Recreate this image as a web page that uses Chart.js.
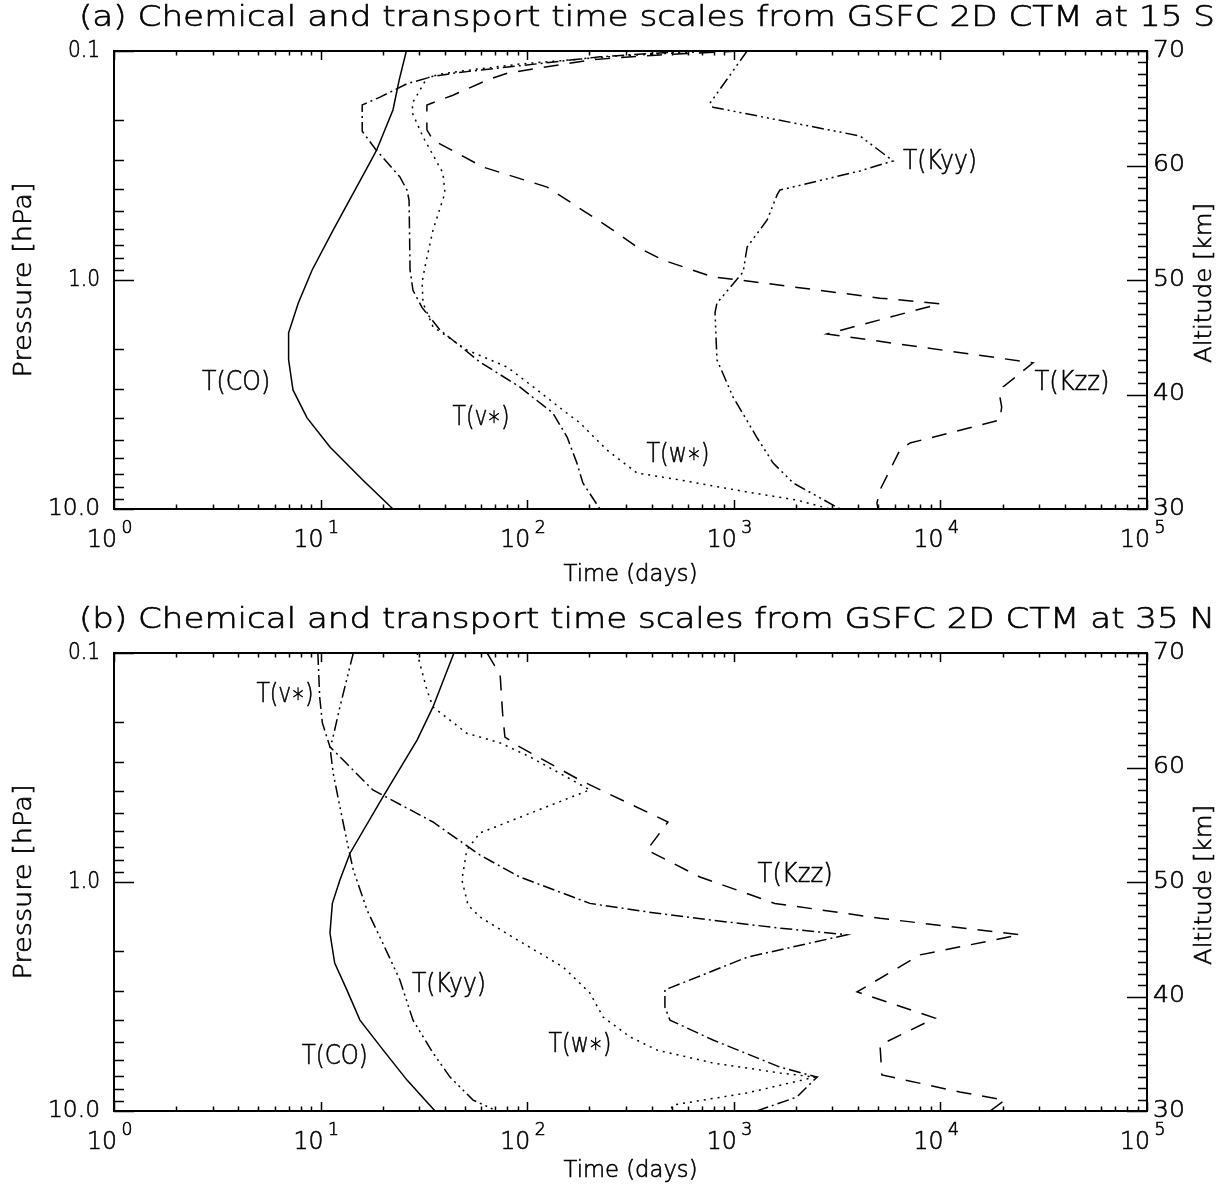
<!DOCTYPE html>
<html>
<head>
<meta charset="utf-8">
<script src="https://cdn.jsdelivr.net/npm/chart.js@4.4.0/dist/chart.umd.min.js"></script>
<style>
  html, body { margin: 0; padding: 0; background: #fff; }
  #wrap { position: relative; width: 1229px; height: 1186px; }
  canvas { position: absolute; left: 0; }
</style>
</head>
<body>
<div id="wrap">
  <canvas id="chartA" width="1229" height="602" style="top:0"></canvas>
  <canvas id="chartB" width="1229" height="584" style="top:602px"></canvas>
</div>
<script>
// axis ticks
const timeDecades = [1, 10, 100, 1000, 10000, 100000];
const timeExponents = ['0', '1', '2', '3', '4', '5'];
const pressureTicks = [0.1, 1, 10];
const pressureLabels = ['0.1', '1.0', '10.0'];
const altitudeTicks = [30, 40, 50, 60, 70];

// panel (a), 15 S -- pressure (hPa) and time scale (days) along each curve
const coA_p = [0.1, 0.134, 0.181, 0.27, 0.308, 0.605, 0.904, 1.26, 1.7, 2.23, 3.02, 4.0, 5.36, 7.47, 10];
const coA_t = [26, 24, 22.4, 18.7, 17.3, 11.5, 9.1, 7.8, 7.0, 7.0, 7.35, 8.6, 11.1, 16, 22.4];

const vA_p = [0.1, 0.106, 0.116, 0.124, 0.129, 0.139, 0.159, 0.172, 0.224, 0.266, 0.355, 0.405, 0.448, 0.904, 1.11, 1.32, 1.65, 2.28, 2.93, 3.81, 4.85, 6.3, 7.7, 10];
const vA_t = [614, 225, 92, 47, 35, 26.2, 19.4, 15.9, 15.9, 18.3, 24.2, 26.2, 26.8, 27.1, 28, 31, 37.8, 59, 92, 133, 156, 174, 186, 225];

const wA_p = [0.1, 0.105, 0.114, 0.121, 0.126, 0.131, 0.156, 0.167, 0.185, 0.237, 0.341, 0.417, 0.605, 0.877, 1.02, 1.26, 1.6, 2.02, 2.4, 2.93, 3.7, 4.21, 5.52, 6.96, 7.47, 8.43, 9.14, 10];
const wA_t = [811, 281, 92, 53, 38, 32.7, 29.3, 28, 27.7, 31.3, 39.1, 40, 35, 32, 31, 31.3, 35, 51, 80, 107, 149, 180, 243, 340, 549, 1160, 2020, 2920];

const kzzA_p = [0.1, 0.104, 0.109, 0.119, 0.125, 0.134, 0.156, 0.172, 0.221, 0.245, 0.321, 0.393, 0.605, 0.718, 0.818, 0.97, 1.0, 1.2, 1.27, 1.72, 2.3, 2.93, 3.24, 3.59, 4.09, 5.15, 5.52, 8.26, 9.42, 10];
const kzzA_t = [1070, 439, 208, 112, 80, 64, 43.7, 32.7, 32.7, 35, 61, 125, 260, 340, 454, 793, 1070, 5100, 9950, 2830, 28100, 20100, 19400, 19800, 19400, 7130, 6370, 5100, 4930, 4990];

const kyyA_p = [0.1, 0.169, 0.176, 0.235, 0.302, 0.334, 0.405, 0.425, 0.547, 0.718, 0.923, 1.26, 1.39, 2.23, 3.24, 4.85, 6.3, 7.7, 10];
const kyyA_t = [1160, 767, 793, 4080, 5900, 4080, 1670, 1620, 1450, 1160, 1110, 829, 811, 829, 991, 1290, 1550, 1940, 3270];

// panel (b), 35 N
const coB_p = [0.1, 0.172, 0.24, 0.426, 0.747, 0.98, 1.24, 1.67, 2.26, 2.96, 4.01, 5.42, 7.33, 10];
const coB_t = [44.2, 35, 29.3, 20, 13.9, 12.4, 11.4, 11.1, 11.7, 13.4, 15.5, 20.1, 26.2, 35.8];

const vB_p = [0.1, 0.156, 0.202, 0.257, 0.396, 0.547, 0.762, 0.951, 1.24, 1.35, 1.47, 1.59, 1.70, 2.13, 2.9, 2.96, 3.52, 4.01, 4.9, 6.43, 7.11, 8.69, 10];
const vB_t = [9.7, 9.9, 10.2, 11.1, 17.9, 35, 59, 92, 201, 380, 793, 1670, 3530, 1160, 491, 464, 464, 491, 793, 1670, 2530, 2020, 1290];

const wB_p = [0.1, 0.145, 0.172, 0.224, 0.247, 0.284, 0.396, 0.611, 0.725, 0.98, 1.26, 1.42, 1.74, 2.35, 3.05, 3.89, 4.75, 5.42, 6.17, 6.82, 7.11, 8.34, 9.41, 10];
const wB_t = [29.3, 32.7, 35, 51, 74, 103, 201, 59, 51, 48.3, 51.7, 59, 85, 149, 201, 233, 315, 425, 793, 1670, 2470, 1160, 508, 491];

const kzzB_p = [0.1, 0.125, 0.183, 0.233, 0.257, 0.359, 0.547, 0.725, 0.951, 1.24, 1.44, 1.70, 2.08, 3.02, 3.93, 5.15, 6.96, 8.26, 8.96, 10];
const kzzB_t = [64, 74, 76, 78, 92, 180, 480, 380, 686, 1580, 5100, 24300, 7970, 3950, 9420, 5100, 5210, 12400, 20500, 17400];

const kyyB_p = [0.1, 0.172, 0.24, 0.257, 0.334, 0.47, 0.703, 0.887, 1.33, 1.85, 2.68, 4.01, 5.58, 7.11, 8.96, 10];
const kyyB_t = [14.4, 12.4, 11.4, 11.1, 11.5, 12.4, 13.6, 14.4, 16.8, 20, 24.2, 28, 35, 42.3, 54.7, 71.4];

// curve labels (time, pressure)
const labelsA = [
  { text: 'T(CO)', t: 3.9, p: 2.82, w: 68 },
  { text: 'T(v\u2217)', t: 59.8, p: 4.01, w: 57 },
  { text: 'T(w\u2217)', t: 537, p: 5.81, w: 63 },
  { text: 'T(Kyy)', t: 9950, p: 0.305, w: 74 },
  { text: 'T(Kzz)', t: 43300, p: 2.82, w: 75 }
];
const labelsB = [
  { text: 'T(v\u2217)', t: 6.72, p: 0.153, w: 57 },
  { text: 'T(Kyy)', t: 41.8, p: 2.82, w: 74 },
  { text: 'T(CO)', t: 11.7, p: 5.81, w: 66 },
  { text: 'T(w\u2217)', t: 180, p: 5.15, w: 63 },
  { text: 'T(Kzz)', t: 1980, p: 0.931, w: 75 }
];

const DOTTED = [2, 5];
const DASHED = [15, 11];
const DASHDOT = [12, 4, 2, 4];
const DASH3DOT = [12, 4, 2, 4, 2, 4, 2, 4];

const FONT = '200 SIZEpx "DejaVu Sans"';

// thin font stretched to the wide plotter lettering, with a light outline to thicken it
function fitText(ctx, str, x, y, size, width, align) {
  ctx.font = FONT.replace('SIZE', size);
  const w0 = ctx.measureText(str).width;
  ctx.save();
  ctx.translate(x, y);
  ctx.scale(width / w0, 1);
  ctx.textAlign = align || 'center';
  ctx.textBaseline = 'middle';
  ctx.fillStyle = '#000';
  ctx.strokeStyle = '#000';
  ctx.lineWidth = 0.6;
  ctx.fillText(str, 0, 0);
  ctx.strokeText(str, 0, 0);
  ctx.restore();
}

function series(t, p, dash) {
  return {
    data: t.map((v, i) => ({ x: v, y: p[i] })),
    showLine: true,
    borderColor: '#000',
    borderWidth: 1.5,
    borderDash: dash,
    pointRadius: 0,
    tension: 0,
    fill: false
  };
}

const framePlugin = {
  id: 'frame',
  afterDraw(chart) {
    const ctx = chart.ctx;
    const { left, right, top, bottom } = chart.chartArea;
    const xs = chart.scales.x, ys = chart.scales.y, as = chart.scales.alt;
    const cfg = chart.options.plugins.frame;
    ctx.save();
    ctx.strokeStyle = '#000';
    ctx.lineWidth = 1.5;
    ctx.beginPath();
    // time ticks, bottom and top
    for (let d = 1; d <= 1e5; d *= 10) {
      for (let m = 1; m <= 9; m++) {
        const v = d * m;
        if (v > 1e5) break;
        const px = Math.round(xs.getPixelForValue(v)) + 0.5;
        const len = m === 1 ? 9 : 4.5;
        ctx.moveTo(px, bottom); ctx.lineTo(px, bottom - len);
        ctx.moveTo(px, top); ctx.lineTo(px, top + len);
      }
    }
    // pressure ticks, left
    for (let d = 0.1; d <= 10; d *= 10) {
      for (let m = 1; m <= 9; m++) {
        const v = d * m;
        if (v > 10.001) break;
        const py = Math.round(ys.getPixelForValue(v)) + 0.5;
        const len = m === 1 ? 20 : 10;
        ctx.moveTo(left, py); ctx.lineTo(left + len, py);
      }
    }
    // altitude ticks, right
    for (let a = 30; a <= 70; a++) {
      const py = Math.round(as.getPixelForValue(a)) + 0.5;
      const len = a % 10 === 0 ? 20 : 9;
      ctx.moveTo(right, py); ctx.lineTo(right - len, py);
    }
    ctx.stroke();
    ctx.lineWidth = 2;
    ctx.strokeRect(left, top, right - left, bottom - top);
    ctx.restore();

    // tick labels
    timeDecades.forEach((v, i) => {
      const px = xs.getPixelForValue(v);
      fitText(ctx, '10', px - 12, bottom + 32, 24, 30, 'center');
      fitText(ctx, timeExponents[i], px + 13, bottom + 20, 17, 11, 'center');
    });
    pressureTicks.forEach((v, i) => {
      const py = ys.getPixelForValue(v);
      const w = pressureLabels[i].length === 3 ? 32 : 52;
      fitText(ctx, pressureLabels[i], left - 14, py, 23, w, 'right');
    });
    altitudeTicks.forEach(a => {
      const py = as.getPixelForValue(a);
      fitText(ctx, String(a), right + 6, py, 23, 32, 'left');
    });

    // axis titles
    fitText(ctx, cfg.title, 647, 18, 29, 1136, 'center');
    fitText(ctx, 'Time (days)', (left + right) / 2, bottom + cfg.xTitleGap, 23, 134, 'center');
    ctx.save();
    ctx.translate(25, (top + bottom) / 2);
    ctx.rotate(-Math.PI / 2);
    fitText(ctx, 'Pressure [hPa]', 0, 0, 24, 195, 'center');
    ctx.restore();
    ctx.save();
    ctx.translate(1205, (top + bottom) / 2 + 3);
    ctx.rotate(-Math.PI / 2);
    fitText(ctx, 'Altitude [km]', 0, 0, 23, 160, 'center');
    ctx.restore();

    // curve labels
    cfg.labels.forEach(l => {
      fitText(ctx, l.text, xs.getPixelForValue(l.t), ys.getPixelForValue(l.p), 27, l.w, 'center');
    });
  }
};

function makeChart(id, height, datasets, title, labels, xTitleGap) {
  const plotBottom = 509;
  return new Chart(document.getElementById(id), {
    type: 'scatter',
    data: { datasets },
    options: {
      responsive: false,
      animation: false,
      layout: { padding: { top: 51, left: 0, right: 0, bottom: 0 } },
      plugins: {
        legend: { display: false },
        tooltip: { enabled: false },
        frame: { title, labels, xTitleGap }
      },
      scales: {
        x: {
          type: 'logarithmic', min: 1, max: 1e5,
          ticks: { display: false }, grid: { display: false }, border: { display: false },
          afterFit: s => { s.height = height - plotBottom; }
        },
        y: {
          type: 'logarithmic', min: 0.1, max: 10, reverse: true, position: 'left',
          ticks: { display: false }, grid: { display: false }, border: { display: false },
          afterFit: s => { s.width = 114; }
        },
        alt: {
          type: 'linear', min: 30, max: 70, position: 'right',
          ticks: { display: false }, grid: { display: false }, border: { display: false },
          afterFit: s => { s.width = 82; }
        }
      }
    },
    plugins: [framePlugin]
  });
}

makeChart('chartA', 602, [
  series(coA_t, coA_p, []),
  series(vA_t, vA_p, DASHDOT),
  series(wA_t, wA_p, DOTTED),
  series(kzzA_t, kzzA_p, DASHED),
  series(kyyA_t, kyyA_p, DASH3DOT)
], '(a) Chemical and transport time scales from GSFC 2D CTM at 15 S', labelsA, 66);

makeChart('chartB', 584, [
  series(coB_t, coB_p, []),
  series(vB_t, vB_p, DASHDOT),
  series(wB_t, wB_p, DOTTED),
  series(kzzB_t, kzzB_p, DASHED),
  series(kyyB_t, kyyB_p, DASH3DOT)
], '(b) Chemical and transport time scales from GSFC 2D CTM at 35 N', labelsB, 60);
</script>
</body>
</html>
